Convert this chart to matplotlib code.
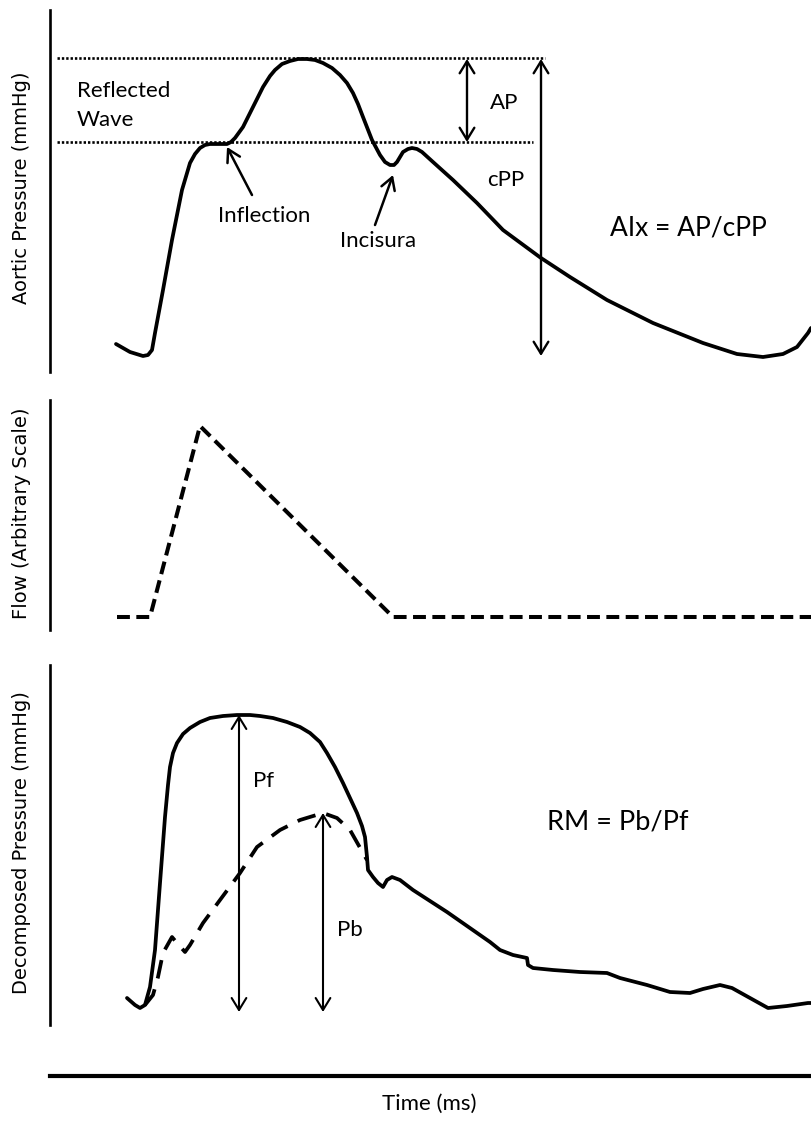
import matplotlib
matplotlib.use("Agg")
import matplotlib.pyplot as plt
import numpy as np

# ---------------- data (arbitrary units) ----------------
# Panel 1: aortic pressure waveform
aortic_t = [66, 80, 93, 98, 102, 105, 113, 122, 132, 140, 145, 150, 155, 160, 177,
            181, 185, 193, 203, 213, 220, 225, 232, 240, 248, 257, 265, 273, 282,
            290, 297, 303, 308, 313, 322, 330, 335, 340, 344, 347, 353, 358, 362,
            367, 372, 383, 403, 427, 453, 491, 520, 557, 603, 653, 687, 713, 733,
            747, 758, 761]
aortic_p = [28, 20, 16, 17, 22, 39, 82, 132, 182, 209, 218, 224, 227, 228, 228,
            230, 234, 245, 265, 285, 296, 302, 308, 311, 313, 313, 312, 309, 304,
            297, 289, 279, 268, 255, 232, 217, 210, 207, 207, 210, 220, 223, 224,
            223, 220, 210, 192, 169, 142, 114, 95, 72, 49, 29, 18, 15, 18,
            25, 39, 44]
inflection_idx = 14   # shoulder of the wave
incisura_idx = 38     # notch

# Panel 2: flow
flow_t = [67, 100, 150, 343, 761]
flow_q = [13, 13, 204, 13, 13]

# Panel 3: decomposed pressure (forward = solid, backward = dashed)
fwd_t = [77, 85, 90, 95, 100, 105, 110, 115, 118, 120, 123, 127, 133, 140, 150,
         160, 173, 187, 200, 210, 223, 237, 250, 260, 270, 277, 285, 293, 300,
         307, 312, 315, 317, 318, 323, 328, 333, 337, 342, 350, 363, 397,
         440, 450, 463, 477, 478, 483, 503, 530, 557, 570, 597, 620, 640, 653, 670,
         682, 700, 718, 737, 758, 761]
fwd_p = [27, 20, 17, 20, 38, 75, 142, 208, 240, 258, 272, 282, 291, 297, 303,
         307, 309, 310, 310, 309, 307, 303, 298, 292, 283, 272, 258, 242, 227,
         212, 199, 188, 168, 155, 148, 142, 138, 145, 148, 145, 135, 113,
         83, 75, 70, 67, 60, 57, 55, 53, 52, 47, 40, 33, 32, 36, 40,
         37, 27, 17, 19, 22, 22]
bwd_t = [95, 103, 108, 113, 122, 127, 135, 140, 153, 170, 190, 207, 230, 250,
         273, 287, 300, 313, 317]
bwd_p = [20, 30, 48, 72, 88, 82, 73, 80, 102, 125, 152, 178, 195, 205,
         212, 207, 195, 172, 165]
decomp_base = 13

# ---------------- figure ----------------
W, H = 811, 1122
fig = plt.figure(figsize=(W / 100, H / 100), dpi=100)
fig.patch.set_facecolor("white")

LABEL_FONT = ["Lato", "DejaVu Sans"]
AXIS_FONT = ["DejaVu Sans"]
CURVE_LW = 2.7


def axes_px(x0, y_top, x1, y_bot):
    return fig.add_axes([x0 / W, 1 - y_bot / H, (x1 - x0) / W, (y_bot - y_top) / H])


def clean(ax, xmax, ymax, left=True):
    ax.set_xlim(0, xmax)
    ax.set_ylim(0, ymax)
    for s in ["top", "right", "bottom"]:
        ax.spines[s].set_visible(False)
    ax.spines["left"].set_visible(left)
    ax.spines["left"].set_linewidth(1.9)
    ax.set_xticks([])
    ax.set_yticks([])
    ax.patch.set_alpha(0)


def dbl_arrow(ax, x, y0, y1, lw=1.5):
    ax.annotate("", xy=(x, y0), xytext=(x, y1),
                arrowprops=dict(arrowstyle="<->, head_length=0.72, head_width=0.44",
                                mutation_scale=12, lw=lw, color="black",
                                shrinkA=0, shrinkB=0),
                annotation_clip=False)


def ptr_arrow(ax, xy, xytext, lw=1.8):
    ax.annotate("", xy=xy, xytext=xytext,
                arrowprops=dict(arrowstyle="->, head_length=0.72, head_width=0.42",
                                mutation_scale=12, lw=lw, color="black",
                                shrinkA=0, shrinkB=0),
                annotation_clip=False)


# ---- Panel 1: aortic pressure ----
ax1 = axes_px(50, 10, 811, 372)
clean(ax1, 761, 362)
ax1.plot(aortic_t, aortic_p, color="black", lw=CURVE_LW, solid_capstyle="round",
         solid_joinstyle="round", clip_on=False)
peak = max(aortic_p)
infl = aortic_p[inflection_idx]
ax1.plot([7, 495], [peak + 1, peak + 1], color="black", lw=1.9,
         linestyle=(0, (0.9, 0.75)), clip_on=False)
ax1.plot([7, 483], [infl + 2, infl + 2], color="black", lw=1.9,
         linestyle=(0, (0.9, 0.75)), clip_on=False)
dbl_arrow(ax1, 417, infl + 2, peak, lw=1.7)
dbl_arrow(ax1, 491, min(aortic_p) + 1, peak, lw=1.7)
ptr_arrow(ax1, (aortic_t[inflection_idx], infl - 3), (202, 177))
ptr_arrow(ax1, (aortic_t[incisura_idx] - 1, aortic_p[incisura_idx] - 10), (325, 147))

ax1.text(27, 281, "Reflected", fontsize=16, family=LABEL_FONT, ha="left", va="center")
ax1.text(27, 252, "Wave", fontsize=16, family=LABEL_FONT, ha="left", va="center")
ax1.text(440, 269, "AP", fontsize=16, family=LABEL_FONT, ha="left", va="center")
ax1.text(437, 192, "cPP", fontsize=16, family=LABEL_FONT, ha="left", va="center")
ax1.text(214, 156, "Inflection", fontsize=16, family=LABEL_FONT, ha="center", va="center")
ax1.text(328, 131, "Incisura", fontsize=16, family=LABEL_FONT, ha="center", va="center")
ax1.text(638, 144, "AIx = AP/cPP", fontsize=19, family=LABEL_FONT, ha="center", va="center")

# ---- Panel 2: flow ----
ax2 = axes_px(50, 400, 811, 630)
clean(ax2, 761, 230)
ax2.plot(flow_t, flow_q, color="black", lw=2.9, linestyle=(0, (3.2, 1.6)),
         clip_on=False)

# ---- Panel 3: decomposed pressure ----
ax3 = axes_px(50, 665, 811, 1025)
clean(ax3, 761, 360)
ax3.plot(fwd_t, fwd_p, color="black", lw=CURVE_LW, solid_capstyle="round",
         solid_joinstyle="round", clip_on=False)
ax3.plot(bwd_t, bwd_p, color="black", lw=CURVE_LW, linestyle=(0, (5.0, 3.0)),
         clip_on=False)
dbl_arrow(ax3, 189, decomp_base, max(fwd_p), lw=1.5)
dbl_arrow(ax3, 273, decomp_base, max(bwd_p), lw=1.5)
ax3.text(203, 244, "Pf", fontsize=16, family=LABEL_FONT, ha="left", va="center")
ax3.text(287, 95, "Pb", fontsize=16, family=LABEL_FONT, ha="left", va="center")
ax3.text(568, 203, "RM = Pb/Pf", fontsize=19.5, family=LABEL_FONT, ha="center", va="center")

# ---- Time axis ----
ax4 = axes_px(50, 1060, 811, 1076)
ax4.set_xlim(0, 761)
ax4.set_ylim(0, 1)
for s in ["top", "right", "left"]:
    ax4.spines[s].set_visible(False)
ax4.spines["bottom"].set_linewidth(3.0)
ax4.set_xticks([])
ax4.set_yticks([])
ax4.patch.set_alpha(0)
fig.text(429 / W, 1 - 1104 / H, "Time (ms)", fontsize=16, family=LABEL_FONT,
         ha="center", va="center")

# ---- y labels ----
fig.text(22 / W, 1 - 188 / H, "Aortic Pressure (mmHg)", rotation=90, fontsize=14,
         family=AXIS_FONT, ha="center", va="center")
fig.text(22 / W, 1 - 513 / H, "Flow (Arbitrary Scale)", rotation=90, fontsize=14,
         family=AXIS_FONT, ha="center", va="center")
fig.text(22 / W, 1 - 843 / H, "Decomposed Pressure (mmHg)", rotation=90, fontsize=14,
         family=AXIS_FONT, ha="center", va="center")

fig.savefig("out.png", dpi=100, facecolor="white")
